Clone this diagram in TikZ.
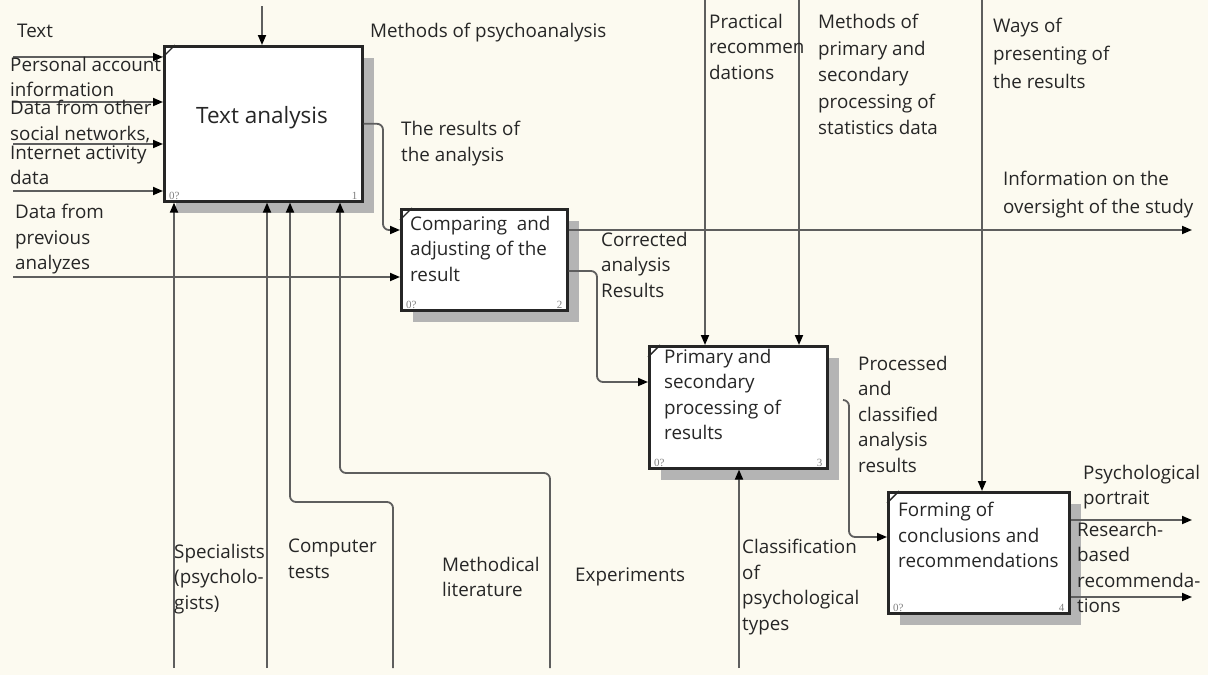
\documentclass[tikz,border=0pt]{standalone}
\usepackage{fontspec}
\setmainfont{Open Sans}
\newfontfamily\tagfont{Liberation Serif}
\usetikzlibrary{arrows.meta,calc,shadows}
\definecolor{paper}{HTML}{FCFAF0}
\definecolor{wire}{HTML}{5E5E5E}
\definecolor{shade}{HTML}{B4B4B4}
\definecolor{ink}{HTML}{262626}
\tikzset{
  lbl/.style={anchor=north west, align=left, inner sep=0pt, text=ink,
              font=\fontsize{18.8}{25.5}\selectfont},
  boxtext/.style={lbl},
  fnbox/.style={draw=ink, line width=2.6pt, fill=white, anchor=north west,
                inner sep=0pt,
                general shadow={fill=shade, shadow xshift=12pt, shadow yshift=-12pt}},
  tag/.style={inner sep=0pt, text=gray, font=\tagfont\fontsize{11}{11}\selectfont},
  arr/.style={draw=wire, line width=1.8pt,
              -{Triangle[length=10pt,width=8pt,color=black]}},
  rbend/.style={rounded corners=6pt},
}
\begin{document}
\begin{tikzpicture}[x=1pt,y=-1pt]
\useasboundingbox (0,0) rectangle (1208,675);
\fill[paper] (0,0) rectangle (1208,675);

% activity boxes
\node[fnbox, minimum width=198pt, minimum height=155pt] (b1) at (163,45) {};
\node[fnbox, minimum width=166pt, minimum height=101pt] (b2) at (400,208) {};
\node[fnbox, minimum width=178pt, minimum height=122pt] (b3) at (648,345) {};
\node[fnbox, minimum width=181pt, minimum height=121pt] (b4) at (887,491) {};

% corner marks and box numbers
\foreach \b/\n in {b1/1, b2/2, b3/3, b4/4}{
  \draw[ink, line width=1.4pt] (\b.north west) ++(0,12) -- ++(12,-12);
  \node[tag, anchor=south west] (\b-tag) at ($(\b.south west)+(6,-3)$) {0?};
  \node[tag, anchor=south east] (\b-num) at ($(\b.south east)+(-6,-3)$) {\n};
}

% box titles
\node[inner sep=0pt, text=ink, font=\fontsize{22.5}{26}\selectfont] (t1) at (262,118) {Text analysis};
\node[boxtext] (t2) at (410,216) {Comparing\ \ and\\adjusting of the\\result};
\node[boxtext] (t3) at (664,349) {Primary and\\secondary\\processing of\\results};
\node[boxtext] (t4) at (898,502) {Forming of\\conclusions and\\recommendations};

% free ends of the arrows
\coordinate (c1) at (262,6);
\coordinate (c2) at (705,0);
\coordinate (c3) at (799,0);
\coordinate (c4) at (982,0);
\coordinate (i1) at (13,57);
\coordinate (i2) at (13,102);
\coordinate (i3) at (13,144);
\coordinate (i4) at (13,191);
\coordinate (i5) at (13,277);
\coordinate (o1) at (1192,230);
\coordinate (o4) at (1192,520);
\coordinate (o5) at (1192,597);
\coordinate (o3) at (843,400);
\coordinate (m1) at (174,668);
\coordinate (m2) at (267,668);
\coordinate (m3) at (393,668);
\coordinate (m4) at (550,668);
\coordinate (m5) at (739,668);

% controls
\draw[arr] (c1) -- (c1 |- b1.north);
\draw[arr] (c2) -- (c2 |- b3.north);
\draw[arr] (c3) -- (c3 |- b3.north);
\draw[arr] (c4) -- (c4 |- b4.north);

% inputs
\draw[arr] (i1) -- (i1 -| b1.west);
\draw[arr] (i2) -- (i2 -| b1.west);
\draw[arr] (i3) -- (i3 -| b1.west);
\draw[arr] (i4) -- (i4 -| b1.west);
\draw[arr] (i5) -- (i5 -| b2.west);

% links between the boxes
\draw[arr, rbend] (b1.east) -| (383,230) -- (b2.west |- 383,230);
\draw[arr, rbend] (b2.east |- 0,271) -| (597,382) -- (b3.west |- 597,382);
\draw[arr, rbend] (o3) -| (849,537) -- (b4.west |- 849,537);

% outputs
\draw[arr] (b2.east |- o1) -- (o1);
\draw[arr] (b4.east |- o4) -- (o4);
\draw[arr] (b4.east |- o5) -- (o5);

% mechanisms
\draw[arr] (m1) -- (m1 |- b1.south);
\draw[arr] (m2) -- (m2 |- b1.south);
\draw[arr, rbend] (m3) -- (393,502) -- (290,502) -- (b1.south -| 290,502);
\draw[arr, rbend] (m4) -- (550,473) -- (340,473) -- (b1.south -| 340,473);
\draw[arr] (m5) -- (m5 |- b3.south);

% arrow labels
\node[lbl] (l1) at (17,24) {Text};
\node[lbl] (l2) at (10,57) {Personal account\\information};
\node[lbl] (l3) at (10,100) {Data from other\\social networks,};
\node[lbl] (l4) at (10,145) {Internet activity\\data};
\node[lbl] (l5) at (15,204) {Data from\\previous\\analyzes};
\node[lbl] (l6) at (370,23) {Methods of psychoanalysis};
\node[lbl] (l7) at (401,121) {The results of\\the analysis};
\node[lbl] (l8) at (601,232) {Corrected\\analysis\\Results};
\node[lbl] (l9) at (709,14) {Practical\\recommen\\dations};
\node[lbl, font=\fontsize{18.8}{26.5}\selectfont] (l10) at (818,14) {Methods of\\primary and\\secondary\\processing of\\statistics data};
\node[lbl, font=\fontsize{18.8}{28}\selectfont] (l11) at (993,18) {Ways of\\presenting of\\the results};
\node[lbl, font=\fontsize{18.8}{28}\selectfont] (l12) at (1003,171) {Information on the\\oversight of the study};
\node[lbl] (l13) at (858,356) {Processed\\and\\classified\\analysis\\results};
\node[lbl] (l14) at (1083,465) {Psychological\\portrait};
\node[lbl] (l15) at (1077,522) {Research-\\based\\recommenda-\\tions};
\node[lbl] (l16) at (174,544) {Specialists\\(psycholo-\\gists)};
\node[lbl] (l17) at (288,539) {Computer\\tests};
\node[lbl] (l18) at (442,557) {Methodical\\literature};
\node[lbl] (l19) at (575,567) {Experiments};
\node[lbl] (l20) at (742,539) {Classification\\of\\psychological\\types};
\end{tikzpicture}
\end{document}
